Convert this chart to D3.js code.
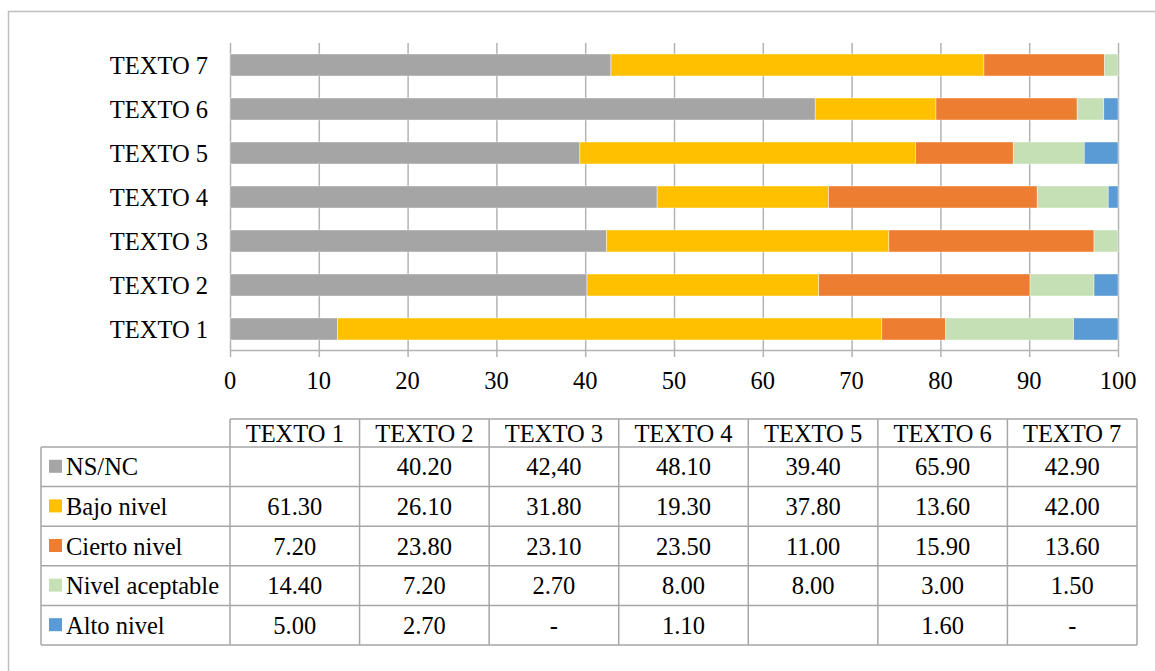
<!DOCTYPE html>
<meta charset="utf-8">
<style>
  body { margin: 0; background: #fff; }
  text { font-family: "Liberation Serif", "Times New Roman", serif; fill: #000; }
</style>
<body>
<script src="https://d3js.org/d3.v7.min.js"></script>
<script>

// categories and series
var textos = ["TEXTO 1", "TEXTO 2", "TEXTO 3", "TEXTO 4", "TEXTO 5", "TEXTO 6", "TEXTO 7"];
var seriesNames = ["NS/NC", "Bajo nivel", "Cierto nivel", "Nivel aceptable", "Alto nivel"];
var colors = ["#A5A5A5", "#FFC000", "#ED7D31", "#C5E0B4", "#5B9BD5"];

// values drawn as bars (one per texto)
var nsnc       = [12.1, 40.2, 42.4, 48.1, 39.4, 65.9, 42.9];
var bajo       = [61.3, 26.1, 31.8, 19.3, 37.8, 13.6, 42.0];
var cierto     = [7.2, 23.8, 23.1, 23.5, 11.0, 15.9, 13.6];
var aceptable  = [14.4, 7.2, 2.7, 8.0, 8.0, 3.0, 1.5];
var alto       = [5.0, 2.7, 0, 1.1, 3.8, 1.6, 0];

// what the data table prints
var tNsnc      = ["", "40.20", "42,40", "48.10", "39.40", "65.90", "42.90"];
var tBajo      = ["61.30", "26.10", "31.80", "19.30", "37.80", "13.60", "42.00"];
var tCierto    = ["7.20", "23.80", "23.10", "23.50", "11.00", "15.90", "13.60"];
var tAceptable = ["14.40", "7.20", "2.70", "8.00", "8.00", "3.00", "1.50"];
var tAlto      = ["5.00", "2.70", "-", "1.10", "", "1.60", "-"];

var xTicks = [0, 10, 20, 30, 40, 50, 60, 70, 80, 90, 100];

var W = 1155, H = 671;
var fs = "24.5px";
var svg = d3.select("body").append("svg")
    .attr("width", W).attr("height", H);

// outer frame (top and left only are visible)
svg.append("path")
    .attr("d", "M8.5,671 V11.5 H1155")
    .attr("fill", "none").attr("stroke", "#BFBFBF").attr("stroke-width", 1.5);

var rows = textos.map(function(t, i) {
  return { texto: t, vals: [nsnc[i], bajo[i], cierto[i], aceptable[i], alto[i]] };
});

var x = d3.scaleLinear().domain([0, 100]).range([230, 1118]);
var y = d3.scaleBand().domain(textos.slice().reverse()).range([43, 351])
    .paddingInner(0.5).paddingOuter(0.25);

// gridlines
svg.append("g").selectAll("line").data(xTicks).enter().append("line")
    .attr("x1", function(d) { return x(d) + 0.5; })
    .attr("x2", function(d) { return x(d) + 0.5; })
    .attr("y1", 43).attr("y2", 357)
    .attr("stroke", "#B3B3B3").attr("stroke-width", 1.5);

// axis line
svg.append("line")
    .attr("x1", x(0)).attr("x2", x(100))
    .attr("y1", 350.5).attr("y2", 350.5)
    .attr("stroke", "#B3B3B3").attr("stroke-width", 1.5);

// stacked bars
var stack = d3.stack().keys([0, 1, 2, 3, 4]).value(function(d, k) { return d.vals[k]; });
var layers = stack(rows);

svg.append("g").selectAll("g").data(layers).enter().append("g")
    .attr("fill", function(d, i) { return colors[i]; })
  .selectAll("rect").data(function(d) { return d; }).enter().append("rect")
    .attr("x", function(d) { return x(d[0]); })
    .attr("width", function(d) { return Math.max(0, x(d[1]) - x(d[0])); })
    .attr("y", function(d) { return y(d.data.texto); })
    .attr("height", y.bandwidth())
    .attr("stroke", "#fff").attr("stroke-width", 0.6).attr("stroke-opacity", 0.7);

// category labels
svg.append("g").selectAll("text").data(textos).enter().append("text")
    .attr("x", 208)
    .attr("y", function(d) { return y(d) + y.bandwidth() / 2; })
    .attr("dy", "0.35em")
    .attr("text-anchor", "end")
    .style("font-size", fs)
    .text(function(d) { return d; });

// x tick labels
svg.append("g").selectAll("text").data(xTicks).enter().append("text")
    .attr("x", function(d) { return x(d); })
    .attr("y", 389)
    .attr("text-anchor", "middle")
    .style("font-size", fs)
    .text(function(d) { return d; });

// data table
var colX = d3.scaleBand().domain(textos).range([230, 1137]);
var tableRows = [tNsnc, tBajo, tCierto, tAceptable, tAlto];
var headTop = 419, rowTop = 447, rowH = 39.6;
var left = 41, right = 1137;
var bottom = rowTop + rowH * tableRows.length;
var lineColor = "#A6A6A6";

var tbl = svg.append("g").attr("stroke", lineColor).attr("stroke-width", 1.5);
// header row box
tbl.append("line").attr("x1", 230).attr("x2", right).attr("y1", headTop).attr("y2", headTop);
// horizontal lines
d3.range(tableRows.length + 1).forEach(function(i) {
  tbl.append("line").attr("x1", left).attr("x2", right)
      .attr("y1", rowTop + rowH * i).attr("y2", rowTop + rowH * i);
});
// vertical lines
tbl.append("line").attr("x1", left).attr("x2", left).attr("y1", rowTop).attr("y2", bottom);
textos.forEach(function(t) {
  tbl.append("line").attr("x1", colX(t)).attr("x2", colX(t)).attr("y1", headTop).attr("y2", bottom);
});
tbl.append("line").attr("x1", right).attr("x2", right).attr("y1", headTop).attr("y2", bottom);

// header texts
svg.append("g").selectAll("text").data(textos).enter().append("text")
    .attr("x", function(d) { return colX(d) + colX.bandwidth() / 2; })
    .attr("y", (headTop + rowTop) / 2)
    .attr("dy", "0.35em")
    .attr("text-anchor", "middle")
    .style("font-size", fs)
    .text(function(d) { return d; });

// row legend keys + names
seriesNames.forEach(function(name, r) {
  var cy = rowTop + rowH * r + rowH / 2;
  svg.append("rect")
      .attr("x", 49).attr("y", cy - 7).attr("width", 13).attr("height", 13)
      .attr("fill", colors[r]);
  svg.append("text")
      .attr("x", 66).attr("y", cy).attr("dy", "0.35em")
      .style("font-size", fs)
      .text(name);
  svg.append("g").selectAll("text").data(tableRows[r]).enter().append("text")
      .attr("x", function(d, i) { return colX(textos[i]) + colX.bandwidth() / 2; })
      .attr("y", cy).attr("dy", "0.35em")
      .attr("text-anchor", "middle")
      .style("font-size", fs)
      .text(function(d) { return d; });
});

</script>
</body>
